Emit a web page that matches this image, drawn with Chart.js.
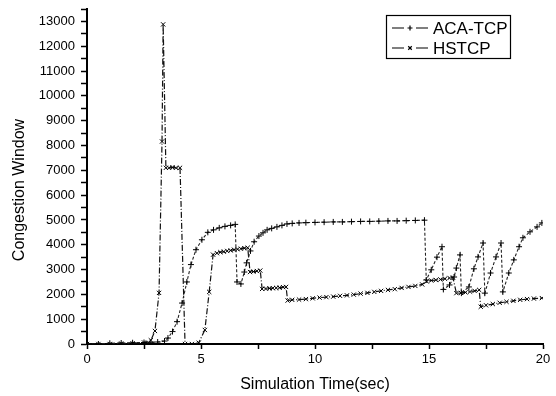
<!DOCTYPE html>
<html>
<head>
<meta charset="utf-8">
<script src="https://cdn.jsdelivr.net/npm/chart.js@4"></script>
<style>
  body { margin: 0; background: #fff; }
  canvas { display: block; }
</style>
</head>
<body>
<canvas id="cwndChart" width="556" height="396"></canvas>
<script>
// series (time in sec, congestion window)
const acaTime = [0, 0.5, 1.0, 1.5, 2.0, 2.5, 2.8, 3.1, 3.4, 3.55, 3.75, 3.95, 4.17, 4.38, 4.56, 4.78, 5.04, 5.3,
  5.55, 5.8, 6.05, 6.3, 6.5, 6.58, 6.75, 6.9, 7.0, 7.17, 7.33, 7.54, 7.72, 7.9, 8.1, 8.33, 8.55, 8.77,
  9.0, 9.3, 9.6, 10.0, 10.4, 10.8, 11.2, 11.6, 12.0, 12.4, 12.8, 13.2, 13.6, 14.0, 14.4, 14.8,
  14.88, 15.1, 15.35, 15.57, 15.63, 15.9, 16.1, 16.2, 16.36, 16.42, 16.75, 16.97, 17.15, 17.37, 17.45,
  17.7, 17.94, 18.16, 18.24, 18.5, 18.72, 18.95, 19.12, 19.43, 19.74, 19.95];
const acaCwnd = [0, 0, 30, 40, 50, 60, 70, 80, 120, 240, 500, 900, 1650, 2500, 3200, 3800, 4200, 4500,
  4600, 4680, 4740, 4780, 4820, 2500, 2420, 2900, 3270, 3750, 4120, 4350, 4480, 4600, 4660, 4720, 4780, 4840,
  4860, 4880, 4890, 4900, 4910, 4920, 4920, 4930, 4940, 4940, 4950, 4960, 4960, 4970, 4980, 4990,
  2580, 2990, 3500, 3920, 2200, 2380, 2700, 3060, 3590, 2050, 2300, 3030, 3510, 4070, 2050,
  2860, 3510, 4070, 2100, 2860, 3390, 3920, 4280, 4520, 4720, 4880];

const hsTime = [0, 0.5, 1.0, 1.5, 2.0, 2.5, 2.8, 2.98, 3.16, 3.29, 3.34, 3.46, 3.6, 3.75, 3.9, 4.08, 4.3,
  4.6, 4.9, 5.17, 5.36, 5.53, 5.7, 5.85, 6.0, 6.15, 6.3, 6.45, 6.6, 6.75, 6.9, 7.05,
  7.15, 7.3, 7.45, 7.6, 7.68, 7.85, 8.0, 8.15, 8.3, 8.45, 8.6, 8.73,
  8.8, 9.0, 9.3, 9.6, 9.9, 10.2, 10.5, 10.8, 11.1, 11.4, 11.7, 12.0, 12.3, 12.6, 12.9, 13.2, 13.5,
  13.8, 14.1, 14.4, 14.7, 14.9, 15.1, 15.3, 15.5, 15.7, 15.9, 16.05,
  16.2, 16.4, 16.6, 16.8, 17.0, 17.2, 17.27, 17.5, 17.8, 18.1, 18.4, 18.7, 19.0, 19.3, 19.6, 19.95];
const hsCwnd = [0, 0, 0, 20, 30, 60, 150, 525, 2060, 8160, 12880, 7100, 7100, 7120, 7100, 7100, 0,
  0, 50, 565, 2100, 3600, 3660, 3700, 3720, 3750, 3770, 3800, 3820, 3840, 3860, 3880,
  2900, 2920, 2940, 2960, 2220, 2230, 2240, 2250, 2260, 2270, 2290, 2300,
  1750, 1780, 1790, 1810, 1840, 1870, 1890, 1910, 1940, 1960, 1990, 2030, 2060, 2100, 2140, 2180, 2210,
  2260, 2300, 2340, 2400, 2520, 2560, 2580, 2600, 2630, 2660, 2680,
  2050, 2060, 2080, 2110, 2140, 2180, 1500, 1560, 1610, 1660, 1700, 1740, 1780, 1810, 1830, 1850];

const xTicks = [0, 5, 10, 15, 20];
const yTitle = "Congestion Window";
const FONT = "'Liberation Sans', Arial, sans-serif";

function pts(t, v) {
  return t.map((x, i) => ({ x: x, y: v[i] }));
}

// legend box inside the plot (top right) + y axis title, drawn by hand
const extras = {
  id: "extras",
  afterDatasetsDraw(chart) {
    const c = chart.ctx;
    c.save();
    c.fillStyle = "#000";
    c.strokeStyle = "#000";
    c.setLineDash([]);

    // y title, a bit lower than the plot centre as in the original
    c.save();
    c.translate(20, 190);
    c.rotate(-Math.PI / 2);
    c.font = "16px " + FONT;
    c.textAlign = "center";
    c.textBaseline = "middle";
    c.fillText(yTitle, 0, 0);
    c.restore();

    c.lineWidth = 1.2;
    c.strokeRect(386.5, 15.5, 124, 43);
    c.font = "17px " + FONT;
    c.textBaseline = "middle";
    chart.data.datasets.forEach((ds, i) => {
      const y = 28 + i * 20;
      c.lineWidth = 1.2;
      c.beginPath();
      c.moveTo(392, y); c.lineTo(404, y);
      c.moveTo(416, y); c.lineTo(428, y);
      c.stroke();
      Chart.helpers.drawPoint(c, { pointStyle: ds.pointStyle, radius: 2.5, borderWidth: 1 }, 410, y);
      c.fillText(ds.label, 433, y + 1);
    });
    c.restore();
  }
};

const ctx = document.getElementById("cwndChart").getContext("2d");

new Chart(ctx, {
  type: "line",
  data: {
    datasets: [
      {
        label: "ACA-TCP",
        data: pts(acaTime, acaCwnd),
        borderColor: "#222",
        borderWidth: 1.1,
        borderDash: [3, 2],
        pointStyle: "cross",
        pointRadius: 3,
        pointBorderColor: "#000",
        pointBorderWidth: 1,
        fill: false,
        tension: 0
      },
      {
        label: "HSTCP",
        data: pts(hsTime, hsCwnd),
        borderColor: "#111",
        borderWidth: 1.2,
        borderDash: [6, 2, 1, 2],
        pointStyle: "crossRot",
        pointRadius: 3,
        pointBorderColor: "#000",
        pointBorderWidth: 1,
        fill: false,
        tension: 0
      }
    ]
  },
  options: {
    responsive: false,
    animation: false,
    devicePixelRatio: 1,
    layout: { padding: { top: 9, right: 13, left: 0, bottom: 0 } },
    plugins: { legend: { display: false }, tooltip: { enabled: false } },
    scales: {
      x: {
        type: "linear",
        min: 0,
        max: 20,
        afterFit: (s) => { s.height = 52; },
        ticks: {
          stepSize: 2.5,
          maxRotation: 0,
          padding: 3,
          color: "#000",
          font: { family: FONT, size: 13 },
          callback: (v) => xTicks.includes(v) ? String(v) : ""
        },
        grid: { drawOnChartArea: false, tickLength: 5, color: "#000", tickWidth: 1.5 },
        border: { color: "#000", width: 2 },
        title: {
          display: true,
          text: "Simulation Time(sec)",
          color: "#000",
          padding: { top: 0, bottom: 2 },
          font: { family: FONT, size: 16 }
        }
      },
      y: {
        min: 0,
        max: 13500,
        afterFit: (s) => { s.width = 87; },
        ticks: {
          stepSize: 500,
          padding: 6,
          color: "#000",
          font: { family: FONT, size: 13, lineHeight: 0.4 },
          callback: (v) => v % 1000 === 0 ? String(v) : ""
        },
        grid: { drawOnChartArea: false, tickLength: 6, color: "#000", tickWidth: 1.5 },
        border: { color: "#000", width: 2 }
      }
    }
  },
  plugins: [extras]
});
</script>
</body>
</html>
